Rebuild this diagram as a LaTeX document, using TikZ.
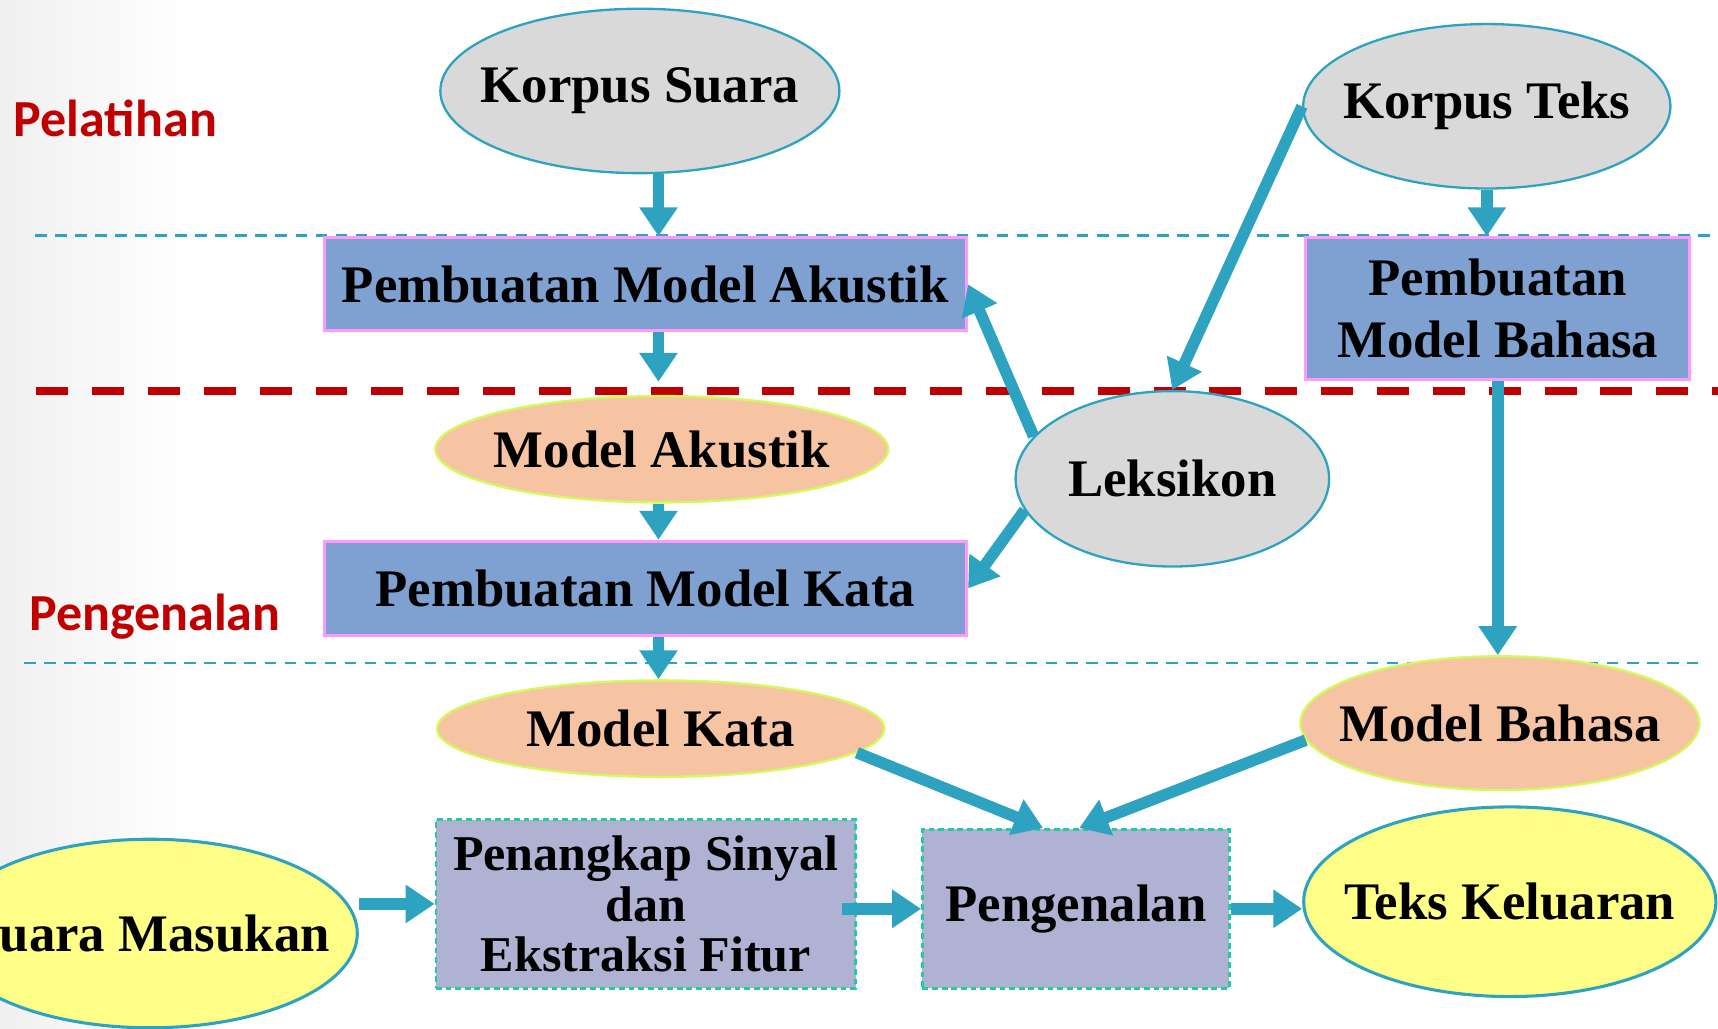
\documentclass[tikz,border=0pt]{standalone}
\usepackage{fontspec}
\setmainfont{Liberation Serif}
\newfontfamily\tagfont{Carlito}
\usetikzlibrary{calc,positioning,arrows.meta,shapes.geometric}
\definecolor{flowblue}{RGB}{46,163,193}
\definecolor{corpusgray}{RGB}{217,217,217}
\definecolor{buildblue}{RGB}{126,161,209}
\definecolor{buildedge}{RGB}{255,153,255}
\definecolor{modelpeach}{RGB}{246,196,163}
\definecolor{modeledge}{RGB}{210,250,90}
\definecolor{ioyellow}{RGB}{255,255,136}
\definecolor{stepviolet}{RGB}{175,178,211}
\definecolor{stepedge}{RGB}{34,204,160}
\definecolor{phasered}{RGB}{192,0,0}
\newcommand\blockfont{\fontsize{13.7}{16}\selectfont\bfseries}

\begin{document}
\begin{tikzpicture}[x=0.01cm,y=-0.01cm,>={Triangle[length=7.5pt,width=9.5pt]},
	flow/.style={->,draw=flowblue,line width=3pt},
	zerow/.style={inner sep=0pt,execute at begin node={\hbox to 0pt\bgroup\hss},execute at end node={\hss\egroup}},
	corpus/.style={ellipse,zerow,draw=flowblue,line width=0.6pt,fill=corpusgray,font=\blockfont},
	model/.style={ellipse,zerow,draw=modeledge,line width=0.6pt,fill=modelpeach,font=\blockfont},
	io/.style={ellipse,zerow,draw=flowblue,line width=0.8pt,fill=ioyellow,font=\blockfont},
	build/.style={rectangle,draw=buildedge,line width=0.8pt,fill=buildblue,align=center,font=\blockfont},
	stage/.style={rectangle,draw=stepedge,line width=0.7pt,dash pattern=on 1.5pt off 1pt,fill=stepviolet,align=center,font=\blockfont},
	phase/.style={anchor=west,inner sep=0pt,text=phasered,font=\tagfont\fontsize{13.5}{15}\selectfont\bfseries}]
	\useasboundingbox (0,0) rectangle (1568,939);
	\clip (0,0) rectangle (1568,939);
	\shade[left color=black!6,right color=white] (0,0) rectangle (170,939);
	% phase separators
	\draw[flowblue,line width=0.7pt,dash pattern=on 3pt off 2.2pt] (32,215) -- (1568,215);
	\draw[phasered,line width=2pt,dash pattern=on 8.3pt off 6.2pt] (33,357) -- (1568,357);
	\draw[flowblue,line width=0.7pt,dash pattern=on 3pt off 2.2pt] (22,605) -- (1550,605);
	\node[phase] (train) at (12,108) {Pelatihan};
	\node[phase] (recog) at (26,563) {Pengenalan};
	%
	\node[corpus,minimum width=3.64cm,minimum height=1.5cm] (ks) at (584,83) {Korpus Suara};
	\node[corpus,minimum width=3.35cm,minimum height=1.5cm] (kt) at (1357,97) {Korpus Teks};
	\node[build,minimum width=5.86cm,minimum height=0.85cm] (pma) at (589,259.5) {Pembuatan Model Akustik};
	\node[build,minimum width=3.5cm,minimum height=1.29cm] (pmb) at (1367,281.5) {Pembuatan\\Model Bahasa};
	\node[model,minimum width=4.13cm,minimum height=0.97cm] (ma) at (604,410) {Model Akustik};
	\node[corpus,minimum width=2.86cm,minimum height=1.6cm] (lek) at (1070,437) {Leksikon};
	\node[build,minimum width=5.86cm,minimum height=0.86cm] (pmk) at (589,537) {Pembuatan Model Kata};
	\node[model,minimum width=4.08cm,minimum height=0.88cm] (mk) at (603,665) {Model Kata};
	\node[model,minimum width=3.64cm,minimum height=1.22cm] (mb) at (1369,660) {Model Bahasa};
	%
	\node[io,minimum width=3.78cm,minimum height=1.72cm] (sm) at (137,852) {Suara Masukan};
	\node[stage,minimum width=3.83cm,minimum height=1.54cm,font=\fontsize{13}{13}\selectfont\bfseries] (pen) at (589.5,825) {Penangkap Sinyal\\dan\\Ekstraksi Fitur};
	\node[stage,minimum width=2.8cm,minimum height=1.45cm] (pg) at (982,829.5) {Pengenalan};
	\node[io,minimum width=3.76cm,minimum height=1.73cm] (tk) at (1378,823) {Teks Keluaran};
	%
	\coordinate (col) at (601,0);
	\draw[flow] (ks.south -| col) -- (pma.north -| col);
	\draw[flow] (pma.south -| col) -- ($(ma.north -| col)+(0,-12)$);
	\draw[flow] (ma.south -| col) -- (pmk.north -| col);
	\draw[flow] (pmk.south -| col) -- (mk.north -| col);
	\draw[flow] (kt.south) -- (kt.south |- pmb.north);
	\draw[flow] (pmb.south) -- (pmb.south |- mb.north);
	\draw[flow] (kt.west) -- (lek.north);
	\draw[flow] (lek.163) -- (pma.east);
	\draw[flow] (lek.192) -- (pmk.east);
	\draw[flow] (mk.-7) -- ($(pg.north)+(-30,0)$);
	\draw[flow] (mb.185) -- ($(pg.north)+(3,0)$);
	\draw[flow] (sm.east |- pen.west) -- (pen.west);
	\draw[flow] ($(pen.east |- pg.west)+(-14,0)$) -- (pg.west);
	\draw[flow] (pg.east) -- (pg.east -| tk.west);
\end{tikzpicture}
\end{document}
